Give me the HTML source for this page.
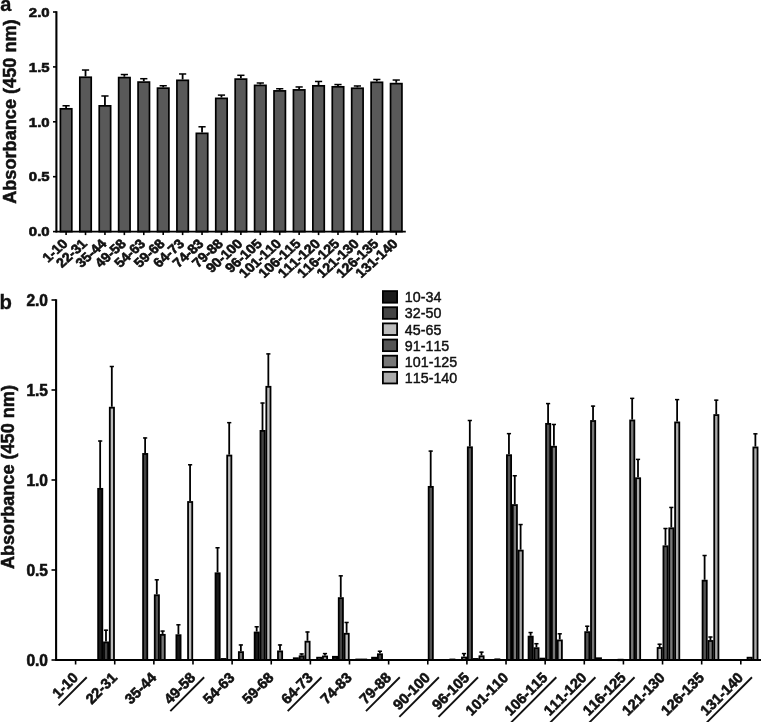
<!DOCTYPE html>
<html lang="en"><head><meta charset="utf-8"><title>Figure</title>
<style>html,body{margin:0;padding:0;background:#fff}svg{display:block}text{font-kerning:none}</style>
</head><body>
<svg width="761" height="722" viewBox="0 0 761 722" font-family='"Liberation Sans", Arial, Helvetica, sans-serif'>
<rect width="761" height="722" fill="#fff"/>
<text x="0.3" y="11.2" font-size="20" font-weight="bold" fill="#111" stroke="#111" stroke-width="0.3">a</text>
<text x="-0.5" y="308.9" font-size="20.3" font-weight="bold" fill="#111" stroke="#111" stroke-width="0.3">b</text>
<line x1="56.4" y1="11.2" x2="56.4" y2="232.4" stroke="#000" stroke-width="2.1"/>
<line x1="53" y1="231.6" x2="56.4" y2="231.6" stroke="#000" stroke-width="1.6"/>
<text transform="translate(49.6,236.3) scale(1.15,1)" font-size="13" font-weight="bold" text-anchor="end" fill="#111" stroke="#111" stroke-width="0.6">0.0</text>
<line x1="53" y1="176.7" x2="56.4" y2="176.7" stroke="#000" stroke-width="1.6"/>
<text transform="translate(49.6,181.4) scale(1.15,1)" font-size="13" font-weight="bold" text-anchor="end" fill="#111" stroke="#111" stroke-width="0.6">0.5</text>
<line x1="53" y1="121.8" x2="56.4" y2="121.8" stroke="#000" stroke-width="1.6"/>
<text transform="translate(49.6,126.5) scale(1.15,1)" font-size="13" font-weight="bold" text-anchor="end" fill="#111" stroke="#111" stroke-width="0.6">1.0</text>
<line x1="53" y1="66.9" x2="56.4" y2="66.9" stroke="#000" stroke-width="1.6"/>
<text transform="translate(49.6,71.6) scale(1.15,1)" font-size="13" font-weight="bold" text-anchor="end" fill="#111" stroke="#111" stroke-width="0.6">1.5</text>
<line x1="53" y1="12" x2="56.4" y2="12" stroke="#000" stroke-width="1.6"/>
<text transform="translate(49.6,16.7) scale(1.15,1)" font-size="13" font-weight="bold" text-anchor="end" fill="#111" stroke="#111" stroke-width="0.6">2.0</text>
<line x1="66.1" y1="105.77" x2="66.1" y2="107.97" stroke="#000" stroke-width="1.8"/>
<line x1="62.5" y1="105.77" x2="69.7" y2="105.77" stroke="#000" stroke-width="1.5"/>
<rect x="60.4" y="108.82" width="11.4" height="122.78" fill="#595959" stroke="#000" stroke-width="1.7"/>
<line x1="85.52" y1="70.02" x2="85.52" y2="76.4" stroke="#000" stroke-width="1.8"/>
<line x1="81.92" y1="70.02" x2="89.12" y2="70.02" stroke="#000" stroke-width="1.5"/>
<rect x="79.82" y="77.25" width="11.4" height="154.35" fill="#595959" stroke="#000" stroke-width="1.7"/>
<line x1="104.94" y1="95.98" x2="104.94" y2="105" stroke="#000" stroke-width="1.8"/>
<line x1="101.34" y1="95.98" x2="108.54" y2="95.98" stroke="#000" stroke-width="1.5"/>
<rect x="99.24" y="105.85" width="11.4" height="125.75" fill="#595959" stroke="#000" stroke-width="1.7"/>
<line x1="124.36" y1="74.53" x2="124.36" y2="76.73" stroke="#000" stroke-width="1.8"/>
<line x1="120.76" y1="74.53" x2="127.96" y2="74.53" stroke="#000" stroke-width="1.5"/>
<rect x="118.66" y="77.58" width="11.4" height="154.02" fill="#595959" stroke="#000" stroke-width="1.7"/>
<line x1="143.78" y1="78.71" x2="143.78" y2="81.24" stroke="#000" stroke-width="1.8"/>
<line x1="140.18" y1="78.71" x2="147.38" y2="78.71" stroke="#000" stroke-width="1.5"/>
<rect x="138.08" y="82.09" width="11.4" height="149.51" fill="#595959" stroke="#000" stroke-width="1.7"/>
<line x1="163.2" y1="85.75" x2="163.2" y2="87.29" stroke="#000" stroke-width="1.8"/>
<line x1="159.6" y1="85.75" x2="166.8" y2="85.75" stroke="#000" stroke-width="1.5"/>
<rect x="157.5" y="88.14" width="11.4" height="143.46" fill="#595959" stroke="#000" stroke-width="1.7"/>
<line x1="182.62" y1="73.98" x2="182.62" y2="79.48" stroke="#000" stroke-width="1.8"/>
<line x1="179.02" y1="73.98" x2="186.22" y2="73.98" stroke="#000" stroke-width="1.5"/>
<rect x="176.92" y="80.33" width="11.4" height="151.27" fill="#595959" stroke="#000" stroke-width="1.7"/>
<line x1="202.04" y1="126.78" x2="202.04" y2="132.5" stroke="#000" stroke-width="1.8"/>
<line x1="198.44" y1="126.78" x2="205.64" y2="126.78" stroke="#000" stroke-width="1.5"/>
<rect x="196.34" y="133.35" width="11.4" height="98.25" fill="#595959" stroke="#000" stroke-width="1.7"/>
<line x1="221.46" y1="95.1" x2="221.46" y2="97.52" stroke="#000" stroke-width="1.8"/>
<line x1="217.86" y1="95.1" x2="225.06" y2="95.1" stroke="#000" stroke-width="1.5"/>
<rect x="215.76" y="98.37" width="11.4" height="133.23" fill="#595959" stroke="#000" stroke-width="1.7"/>
<line x1="240.88" y1="75.3" x2="240.88" y2="78.27" stroke="#000" stroke-width="1.8"/>
<line x1="237.28" y1="75.3" x2="244.48" y2="75.3" stroke="#000" stroke-width="1.5"/>
<rect x="235.18" y="79.12" width="11.4" height="152.48" fill="#595959" stroke="#000" stroke-width="1.7"/>
<line x1="260.3" y1="83" x2="260.3" y2="84.54" stroke="#000" stroke-width="1.8"/>
<line x1="256.7" y1="83" x2="263.9" y2="83" stroke="#000" stroke-width="1.5"/>
<rect x="254.6" y="85.39" width="11.4" height="146.21" fill="#595959" stroke="#000" stroke-width="1.7"/>
<line x1="279.72" y1="88.72" x2="279.72" y2="90.04" stroke="#000" stroke-width="1.8"/>
<line x1="276.12" y1="88.72" x2="283.32" y2="88.72" stroke="#000" stroke-width="1.5"/>
<rect x="274.02" y="90.89" width="11.4" height="140.71" fill="#595959" stroke="#000" stroke-width="1.7"/>
<line x1="299.14" y1="86.96" x2="299.14" y2="89.05" stroke="#000" stroke-width="1.8"/>
<line x1="295.54" y1="86.96" x2="302.74" y2="86.96" stroke="#000" stroke-width="1.5"/>
<rect x="293.44" y="89.9" width="11.4" height="141.7" fill="#595959" stroke="#000" stroke-width="1.7"/>
<line x1="318.56" y1="81.46" x2="318.56" y2="84.98" stroke="#000" stroke-width="1.8"/>
<line x1="314.96" y1="81.46" x2="322.16" y2="81.46" stroke="#000" stroke-width="1.5"/>
<rect x="312.86" y="85.83" width="11.4" height="145.77" fill="#595959" stroke="#000" stroke-width="1.7"/>
<line x1="337.98" y1="84.54" x2="337.98" y2="85.97" stroke="#000" stroke-width="1.8"/>
<line x1="334.38" y1="84.54" x2="341.58" y2="84.54" stroke="#000" stroke-width="1.5"/>
<rect x="332.28" y="86.82" width="11.4" height="144.78" fill="#595959" stroke="#000" stroke-width="1.7"/>
<line x1="357.4" y1="85.97" x2="357.4" y2="87.4" stroke="#000" stroke-width="1.8"/>
<line x1="353.8" y1="85.97" x2="361" y2="85.97" stroke="#000" stroke-width="1.5"/>
<rect x="351.7" y="88.25" width="11.4" height="143.35" fill="#595959" stroke="#000" stroke-width="1.7"/>
<line x1="376.82" y1="79.48" x2="376.82" y2="81.46" stroke="#000" stroke-width="1.8"/>
<line x1="373.22" y1="79.48" x2="380.42" y2="79.48" stroke="#000" stroke-width="1.5"/>
<rect x="371.12" y="82.31" width="11.4" height="149.29" fill="#595959" stroke="#000" stroke-width="1.7"/>
<line x1="396.24" y1="80.03" x2="396.24" y2="82.78" stroke="#000" stroke-width="1.8"/>
<line x1="392.64" y1="80.03" x2="399.84" y2="80.03" stroke="#000" stroke-width="1.5"/>
<rect x="390.54" y="83.63" width="11.4" height="147.97" fill="#595959" stroke="#000" stroke-width="1.7"/>
<line x1="55.7" y1="231.6" x2="405.8" y2="231.6" stroke="#000" stroke-width="1.9"/>
<line x1="66.1" y1="231.6" x2="66.1" y2="235.1" stroke="#000" stroke-width="1.6"/>
<text transform="translate(68.6,244.5) scale(1.1,1) rotate(-45)" font-size="13.1" font-weight="bold" text-anchor="end" fill="#111" stroke="#111" stroke-width="0.6">1-10</text>
<line x1="85.52" y1="231.6" x2="85.52" y2="235.1" stroke="#000" stroke-width="1.6"/>
<text transform="translate(88.02,244.5) scale(1.1,1) rotate(-45)" font-size="13.1" font-weight="bold" text-anchor="end" fill="#111" stroke="#111" stroke-width="0.6">22-31</text>
<line x1="104.94" y1="231.6" x2="104.94" y2="235.1" stroke="#000" stroke-width="1.6"/>
<text transform="translate(107.44,244.5) scale(1.1,1) rotate(-45)" font-size="13.1" font-weight="bold" text-anchor="end" fill="#111" stroke="#111" stroke-width="0.6">35-44</text>
<line x1="124.36" y1="231.6" x2="124.36" y2="235.1" stroke="#000" stroke-width="1.6"/>
<text transform="translate(126.86,244.5) scale(1.1,1) rotate(-45)" font-size="13.1" font-weight="bold" text-anchor="end" fill="#111" stroke="#111" stroke-width="0.6">49-58</text>
<line x1="143.78" y1="231.6" x2="143.78" y2="235.1" stroke="#000" stroke-width="1.6"/>
<text transform="translate(146.28,244.5) scale(1.1,1) rotate(-45)" font-size="13.1" font-weight="bold" text-anchor="end" fill="#111" stroke="#111" stroke-width="0.6">54-63</text>
<line x1="163.2" y1="231.6" x2="163.2" y2="235.1" stroke="#000" stroke-width="1.6"/>
<text transform="translate(165.7,244.5) scale(1.1,1) rotate(-45)" font-size="13.1" font-weight="bold" text-anchor="end" fill="#111" stroke="#111" stroke-width="0.6">59-68</text>
<line x1="182.62" y1="231.6" x2="182.62" y2="235.1" stroke="#000" stroke-width="1.6"/>
<text transform="translate(185.12,244.5) scale(1.1,1) rotate(-45)" font-size="13.1" font-weight="bold" text-anchor="end" fill="#111" stroke="#111" stroke-width="0.6">64-73</text>
<line x1="202.04" y1="231.6" x2="202.04" y2="235.1" stroke="#000" stroke-width="1.6"/>
<text transform="translate(204.54,244.5) scale(1.1,1) rotate(-45)" font-size="13.1" font-weight="bold" text-anchor="end" fill="#111" stroke="#111" stroke-width="0.6">74-83</text>
<line x1="221.46" y1="231.6" x2="221.46" y2="235.1" stroke="#000" stroke-width="1.6"/>
<text transform="translate(223.96,244.5) scale(1.1,1) rotate(-45)" font-size="13.1" font-weight="bold" text-anchor="end" fill="#111" stroke="#111" stroke-width="0.6">79-88</text>
<line x1="240.88" y1="231.6" x2="240.88" y2="235.1" stroke="#000" stroke-width="1.6"/>
<text transform="translate(243.38,244.5) scale(1.1,1) rotate(-45)" font-size="13.1" font-weight="bold" text-anchor="end" fill="#111" stroke="#111" stroke-width="0.6">90-100</text>
<line x1="260.3" y1="231.6" x2="260.3" y2="235.1" stroke="#000" stroke-width="1.6"/>
<text transform="translate(262.8,244.5) scale(1.1,1) rotate(-45)" font-size="13.1" font-weight="bold" text-anchor="end" fill="#111" stroke="#111" stroke-width="0.6">96-105</text>
<line x1="279.72" y1="231.6" x2="279.72" y2="235.1" stroke="#000" stroke-width="1.6"/>
<text transform="translate(282.22,244.5) scale(1.1,1) rotate(-45)" font-size="13.1" font-weight="bold" text-anchor="end" fill="#111" stroke="#111" stroke-width="0.6">101-110</text>
<line x1="299.14" y1="231.6" x2="299.14" y2="235.1" stroke="#000" stroke-width="1.6"/>
<text transform="translate(301.64,244.5) scale(1.1,1) rotate(-45)" font-size="13.1" font-weight="bold" text-anchor="end" fill="#111" stroke="#111" stroke-width="0.6">106-115</text>
<line x1="318.56" y1="231.6" x2="318.56" y2="235.1" stroke="#000" stroke-width="1.6"/>
<text transform="translate(321.06,244.5) scale(1.1,1) rotate(-45)" font-size="13.1" font-weight="bold" text-anchor="end" fill="#111" stroke="#111" stroke-width="0.6">111-120</text>
<line x1="337.98" y1="231.6" x2="337.98" y2="235.1" stroke="#000" stroke-width="1.6"/>
<text transform="translate(340.48,244.5) scale(1.1,1) rotate(-45)" font-size="13.1" font-weight="bold" text-anchor="end" fill="#111" stroke="#111" stroke-width="0.6">116-125</text>
<line x1="357.4" y1="231.6" x2="357.4" y2="235.1" stroke="#000" stroke-width="1.6"/>
<text transform="translate(359.9,244.5) scale(1.1,1) rotate(-45)" font-size="13.1" font-weight="bold" text-anchor="end" fill="#111" stroke="#111" stroke-width="0.6">121-130</text>
<line x1="376.82" y1="231.6" x2="376.82" y2="235.1" stroke="#000" stroke-width="1.6"/>
<text transform="translate(379.32,244.5) scale(1.1,1) rotate(-45)" font-size="13.1" font-weight="bold" text-anchor="end" fill="#111" stroke="#111" stroke-width="0.6">126-135</text>
<line x1="396.24" y1="231.6" x2="396.24" y2="235.1" stroke="#000" stroke-width="1.6"/>
<text transform="translate(398.74,244.5) scale(1.1,1) rotate(-45)" font-size="13.1" font-weight="bold" text-anchor="end" fill="#111" stroke="#111" stroke-width="0.6">131-140</text>
<text transform="translate(16,111.6) rotate(-90)" font-size="18.15" font-weight="bold" text-anchor="middle" fill="#111" stroke="#111" stroke-width="0.55">Absorbance (450 nm)</text>
<line x1="56.1" y1="299.2" x2="56.1" y2="660.8" stroke="#000" stroke-width="2.1"/>
<line x1="51.5" y1="660" x2="56.1" y2="660" stroke="#000" stroke-width="1.6"/>
<text transform="translate(48,665.8) scale(0.97,1)" font-size="16" font-weight="bold" text-anchor="end" fill="#111" stroke="#111" stroke-width="0.6">0.0</text>
<line x1="51.5" y1="570" x2="56.1" y2="570" stroke="#000" stroke-width="1.6"/>
<text transform="translate(48,575.8) scale(0.97,1)" font-size="16" font-weight="bold" text-anchor="end" fill="#111" stroke="#111" stroke-width="0.6">0.5</text>
<line x1="51.5" y1="480" x2="56.1" y2="480" stroke="#000" stroke-width="1.6"/>
<text transform="translate(48,485.8) scale(0.97,1)" font-size="16" font-weight="bold" text-anchor="end" fill="#111" stroke="#111" stroke-width="0.6">1.0</text>
<line x1="51.5" y1="390" x2="56.1" y2="390" stroke="#000" stroke-width="1.6"/>
<text transform="translate(48,395.8) scale(0.97,1)" font-size="16" font-weight="bold" text-anchor="end" fill="#111" stroke="#111" stroke-width="0.6">1.5</text>
<line x1="51.5" y1="300" x2="56.1" y2="300" stroke="#000" stroke-width="1.6"/>
<text transform="translate(48,305.8) scale(0.97,1)" font-size="16" font-weight="bold" text-anchor="end" fill="#111" stroke="#111" stroke-width="0.6">2.0</text>
<line x1="100.15" y1="440.62" x2="100.15" y2="487.96" stroke="#000" stroke-width="1.8"/>
<line x1="98.05" y1="441.02" x2="102.25" y2="441.02" stroke="#000" stroke-width="1.5"/>
<rect x="98.14" y="488.86" width="4.18" height="171.14" fill="#1a1a1a" stroke="#000" stroke-width="1.8"/>
<line x1="105.98" y1="629.8" x2="105.98" y2="641.5" stroke="#000" stroke-width="1.8"/>
<line x1="103.88" y1="630.2" x2="108.08" y2="630.2" stroke="#000" stroke-width="1.5"/>
<rect x="103.97" y="642.4" width="4.18" height="17.6" fill="#444444" stroke="#000" stroke-width="1.8"/>
<line x1="111.81" y1="366.1" x2="111.81" y2="406.78" stroke="#000" stroke-width="1.8"/>
<line x1="109.71" y1="366.5" x2="113.91" y2="366.5" stroke="#000" stroke-width="1.5"/>
<rect x="109.8" y="407.68" width="4.18" height="252.32" fill="#bdbdbd" stroke="#000" stroke-width="1.8"/>
<line x1="145.12" y1="437.56" x2="145.12" y2="453.04" stroke="#000" stroke-width="1.8"/>
<line x1="143.02" y1="437.96" x2="147.22" y2="437.96" stroke="#000" stroke-width="1.5"/>
<rect x="143.1" y="453.94" width="4.18" height="206.06" fill="#444444" stroke="#000" stroke-width="1.8"/>
<line x1="156.78" y1="579.4" x2="156.78" y2="594.34" stroke="#000" stroke-width="1.8"/>
<line x1="154.68" y1="579.8" x2="158.88" y2="579.8" stroke="#000" stroke-width="1.5"/>
<rect x="154.76" y="595.24" width="4.18" height="64.76" fill="#555555" stroke="#000" stroke-width="1.8"/>
<line x1="162.6" y1="630.7" x2="162.6" y2="633.94" stroke="#000" stroke-width="1.8"/>
<line x1="160.5" y1="631.1" x2="164.7" y2="631.1" stroke="#000" stroke-width="1.5"/>
<rect x="160.59" y="634.84" width="4.18" height="25.16" fill="#777777" stroke="#000" stroke-width="1.8"/>
<line x1="178.41" y1="624.4" x2="178.41" y2="634.3" stroke="#000" stroke-width="1.8"/>
<line x1="176.31" y1="624.8" x2="180.51" y2="624.8" stroke="#000" stroke-width="1.5"/>
<rect x="176.4" y="635.2" width="4.18" height="24.8" fill="#1a1a1a" stroke="#000" stroke-width="1.8"/>
<line x1="190.07" y1="464.38" x2="190.07" y2="501.1" stroke="#000" stroke-width="1.8"/>
<line x1="187.97" y1="464.78" x2="192.17" y2="464.78" stroke="#000" stroke-width="1.5"/>
<rect x="188.06" y="502" width="4.18" height="158" fill="#bdbdbd" stroke="#000" stroke-width="1.8"/>
<line x1="217.54" y1="547.36" x2="217.54" y2="572.38" stroke="#000" stroke-width="1.8"/>
<line x1="215.44" y1="547.76" x2="219.64" y2="547.76" stroke="#000" stroke-width="1.5"/>
<rect x="215.53" y="573.28" width="4.18" height="86.72" fill="#1a1a1a" stroke="#000" stroke-width="1.8"/>
<rect x="221.36" y="658.96" width="4.18" height="1.04" fill="#444444" stroke="#000" stroke-width="1.8"/>
<line x1="229.2" y1="422.26" x2="229.2" y2="454.66" stroke="#000" stroke-width="1.8"/>
<line x1="227.1" y1="422.66" x2="231.3" y2="422.66" stroke="#000" stroke-width="1.5"/>
<rect x="227.19" y="455.56" width="4.18" height="204.44" fill="#bdbdbd" stroke="#000" stroke-width="1.8"/>
<line x1="240.86" y1="644.56" x2="240.86" y2="651.22" stroke="#000" stroke-width="1.8"/>
<line x1="238.76" y1="644.96" x2="242.96" y2="644.96" stroke="#000" stroke-width="1.5"/>
<rect x="238.85" y="652.12" width="4.18" height="7.88" fill="#777777" stroke="#000" stroke-width="1.8"/>
<line x1="256.68" y1="626.38" x2="256.68" y2="631.6" stroke="#000" stroke-width="1.8"/>
<line x1="254.58" y1="626.78" x2="258.78" y2="626.78" stroke="#000" stroke-width="1.5"/>
<rect x="254.66" y="632.5" width="4.18" height="27.5" fill="#1a1a1a" stroke="#000" stroke-width="1.8"/>
<line x1="262.5" y1="402.64" x2="262.5" y2="430" stroke="#000" stroke-width="1.8"/>
<line x1="260.4" y1="403.04" x2="264.61" y2="403.04" stroke="#000" stroke-width="1.5"/>
<rect x="260.49" y="430.9" width="4.18" height="229.1" fill="#444444" stroke="#000" stroke-width="1.8"/>
<line x1="268.34" y1="353.5" x2="268.34" y2="385.9" stroke="#000" stroke-width="1.8"/>
<line x1="266.24" y1="353.9" x2="270.44" y2="353.9" stroke="#000" stroke-width="1.5"/>
<rect x="266.32" y="386.8" width="4.18" height="273.2" fill="#bdbdbd" stroke="#000" stroke-width="1.8"/>
<line x1="280" y1="644.56" x2="280" y2="650.5" stroke="#000" stroke-width="1.8"/>
<line x1="277.89" y1="644.96" x2="282.1" y2="644.96" stroke="#000" stroke-width="1.5"/>
<rect x="277.98" y="651.4" width="4.18" height="8.6" fill="#777777" stroke="#000" stroke-width="1.8"/>
<rect x="293.79" y="658.24" width="4.18" height="1.76" fill="#1a1a1a" stroke="#000" stroke-width="1.8"/>
<line x1="301.63" y1="653.56" x2="301.63" y2="655.36" stroke="#000" stroke-width="1.8"/>
<line x1="299.53" y1="653.96" x2="303.74" y2="653.96" stroke="#000" stroke-width="1.5"/>
<rect x="299.62" y="656.26" width="4.18" height="3.74" fill="#444444" stroke="#000" stroke-width="1.8"/>
<line x1="307.47" y1="631.6" x2="307.47" y2="640.78" stroke="#000" stroke-width="1.8"/>
<line x1="305.37" y1="632" x2="309.57" y2="632" stroke="#000" stroke-width="1.5"/>
<rect x="305.45" y="641.68" width="4.18" height="18.32" fill="#bdbdbd" stroke="#000" stroke-width="1.8"/>
<rect x="317.11" y="657.7" width="4.18" height="2.3" fill="#777777" stroke="#000" stroke-width="1.8"/>
<line x1="324.95" y1="653.2" x2="324.95" y2="655.54" stroke="#000" stroke-width="1.8"/>
<line x1="322.85" y1="653.6" x2="327.06" y2="653.6" stroke="#000" stroke-width="1.5"/>
<rect x="322.94" y="656.44" width="4.18" height="3.56" fill="#ababab" stroke="#000" stroke-width="1.8"/>
<rect x="332.92" y="656.8" width="4.18" height="3.2" fill="#1a1a1a" stroke="#000" stroke-width="1.8"/>
<line x1="340.76" y1="575.44" x2="340.76" y2="597.22" stroke="#000" stroke-width="1.8"/>
<line x1="338.66" y1="575.84" x2="342.87" y2="575.84" stroke="#000" stroke-width="1.5"/>
<rect x="338.75" y="598.12" width="4.18" height="61.88" fill="#444444" stroke="#000" stroke-width="1.8"/>
<line x1="346.6" y1="622.06" x2="346.6" y2="632.86" stroke="#000" stroke-width="1.8"/>
<line x1="344.5" y1="622.46" x2="348.7" y2="622.46" stroke="#000" stroke-width="1.5"/>
<rect x="344.58" y="633.76" width="4.18" height="26.24" fill="#bdbdbd" stroke="#000" stroke-width="1.8"/>
<rect x="356.24" y="659.5" width="4.18" height="0.5" fill="#777777" stroke="#000" stroke-width="1.8"/>
<rect x="362.07" y="659.5" width="4.18" height="0.5" fill="#ababab" stroke="#000" stroke-width="1.8"/>
<rect x="372.05" y="657.7" width="4.18" height="2.3" fill="#1a1a1a" stroke="#000" stroke-width="1.8"/>
<line x1="379.89" y1="650.86" x2="379.89" y2="653.38" stroke="#000" stroke-width="1.8"/>
<line x1="377.79" y1="651.26" x2="382" y2="651.26" stroke="#000" stroke-width="1.5"/>
<rect x="377.88" y="654.28" width="4.18" height="5.72" fill="#444444" stroke="#000" stroke-width="1.8"/>
<line x1="430.69" y1="450.7" x2="430.69" y2="485.98" stroke="#000" stroke-width="1.8"/>
<line x1="428.58" y1="451.1" x2="432.79" y2="451.1" stroke="#000" stroke-width="1.5"/>
<rect x="428.67" y="486.88" width="4.18" height="173.12" fill="#555555" stroke="#000" stroke-width="1.8"/>
<rect x="450.31" y="659.5" width="4.18" height="0.5" fill="#1a1a1a" stroke="#000" stroke-width="1.8"/>
<line x1="463.99" y1="653.2" x2="463.99" y2="656.62" stroke="#000" stroke-width="1.8"/>
<line x1="461.88" y1="653.6" x2="466.09" y2="653.6" stroke="#000" stroke-width="1.5"/>
<rect x="461.97" y="657.52" width="4.18" height="2.48" fill="#bdbdbd" stroke="#000" stroke-width="1.8"/>
<line x1="469.81" y1="420.1" x2="469.81" y2="446.38" stroke="#000" stroke-width="1.8"/>
<line x1="467.71" y1="420.5" x2="471.92" y2="420.5" stroke="#000" stroke-width="1.5"/>
<rect x="467.8" y="447.28" width="4.18" height="212.72" fill="#555555" stroke="#000" stroke-width="1.8"/>
<rect x="473.63" y="658.96" width="4.18" height="1.04" fill="#777777" stroke="#000" stroke-width="1.8"/>
<line x1="481.47" y1="651.76" x2="481.47" y2="655.36" stroke="#000" stroke-width="1.8"/>
<line x1="479.37" y1="652.16" x2="483.57" y2="652.16" stroke="#000" stroke-width="1.5"/>
<rect x="479.46" y="656.26" width="4.18" height="3.74" fill="#ababab" stroke="#000" stroke-width="1.8"/>
<rect x="495.27" y="659.32" width="4.18" height="0.68" fill="#444444" stroke="#000" stroke-width="1.8"/>
<line x1="508.94" y1="433.24" x2="508.94" y2="454.3" stroke="#000" stroke-width="1.8"/>
<line x1="506.84" y1="433.64" x2="511.05" y2="433.64" stroke="#000" stroke-width="1.5"/>
<rect x="506.93" y="455.2" width="4.18" height="204.8" fill="#555555" stroke="#000" stroke-width="1.8"/>
<line x1="514.77" y1="475.36" x2="514.77" y2="504.16" stroke="#000" stroke-width="1.8"/>
<line x1="512.67" y1="475.76" x2="516.88" y2="475.76" stroke="#000" stroke-width="1.5"/>
<rect x="512.76" y="505.06" width="4.18" height="154.94" fill="#777777" stroke="#000" stroke-width="1.8"/>
<line x1="520.6" y1="524.14" x2="520.6" y2="549.7" stroke="#000" stroke-width="1.8"/>
<line x1="518.5" y1="524.54" x2="522.7" y2="524.54" stroke="#000" stroke-width="1.5"/>
<rect x="518.59" y="550.6" width="4.18" height="109.4" fill="#ababab" stroke="#000" stroke-width="1.8"/>
<line x1="530.59" y1="632.14" x2="530.59" y2="635.74" stroke="#000" stroke-width="1.8"/>
<line x1="528.49" y1="632.54" x2="532.69" y2="632.54" stroke="#000" stroke-width="1.5"/>
<rect x="528.57" y="636.64" width="4.18" height="23.36" fill="#1a1a1a" stroke="#000" stroke-width="1.8"/>
<line x1="536.42" y1="643.3" x2="536.42" y2="647.26" stroke="#000" stroke-width="1.8"/>
<line x1="534.32" y1="643.7" x2="538.52" y2="643.7" stroke="#000" stroke-width="1.5"/>
<rect x="534.4" y="648.16" width="4.18" height="11.84" fill="#444444" stroke="#000" stroke-width="1.8"/>
<rect x="540.23" y="658.6" width="4.18" height="1.4" fill="#bdbdbd" stroke="#000" stroke-width="1.8"/>
<line x1="548.08" y1="403.18" x2="548.08" y2="422.98" stroke="#000" stroke-width="1.8"/>
<line x1="545.98" y1="403.58" x2="550.18" y2="403.58" stroke="#000" stroke-width="1.5"/>
<rect x="546.06" y="423.88" width="4.18" height="236.12" fill="#555555" stroke="#000" stroke-width="1.8"/>
<line x1="553.91" y1="424.06" x2="553.91" y2="445.84" stroke="#000" stroke-width="1.8"/>
<line x1="551.81" y1="424.46" x2="556.01" y2="424.46" stroke="#000" stroke-width="1.5"/>
<rect x="551.89" y="446.74" width="4.18" height="213.26" fill="#777777" stroke="#000" stroke-width="1.8"/>
<line x1="559.74" y1="633.4" x2="559.74" y2="639.52" stroke="#000" stroke-width="1.8"/>
<line x1="557.63" y1="633.8" x2="561.84" y2="633.8" stroke="#000" stroke-width="1.5"/>
<rect x="557.72" y="640.42" width="4.18" height="19.58" fill="#ababab" stroke="#000" stroke-width="1.8"/>
<line x1="587.21" y1="625.84" x2="587.21" y2="631.24" stroke="#000" stroke-width="1.8"/>
<line x1="585.11" y1="626.24" x2="589.31" y2="626.24" stroke="#000" stroke-width="1.5"/>
<rect x="585.19" y="632.14" width="4.18" height="27.86" fill="#555555" stroke="#000" stroke-width="1.8"/>
<line x1="593.04" y1="405.7" x2="593.04" y2="420.1" stroke="#000" stroke-width="1.8"/>
<line x1="590.94" y1="406.1" x2="595.14" y2="406.1" stroke="#000" stroke-width="1.5"/>
<rect x="591.02" y="421" width="4.18" height="239" fill="#777777" stroke="#000" stroke-width="1.8"/>
<rect x="596.85" y="658.24" width="4.18" height="1.76" fill="#ababab" stroke="#000" stroke-width="1.8"/>
<rect x="618.49" y="659.68" width="4.18" height="0.5" fill="#bdbdbd" stroke="#000" stroke-width="1.8"/>
<line x1="632.17" y1="397.96" x2="632.17" y2="419.56" stroke="#000" stroke-width="1.8"/>
<line x1="630.07" y1="398.36" x2="634.27" y2="398.36" stroke="#000" stroke-width="1.5"/>
<rect x="630.15" y="420.46" width="4.18" height="239.54" fill="#777777" stroke="#000" stroke-width="1.8"/>
<line x1="638" y1="458.98" x2="638" y2="477.34" stroke="#000" stroke-width="1.8"/>
<line x1="635.89" y1="459.38" x2="640.1" y2="459.38" stroke="#000" stroke-width="1.5"/>
<rect x="635.98" y="478.24" width="4.18" height="181.76" fill="#ababab" stroke="#000" stroke-width="1.8"/>
<line x1="659.63" y1="643.84" x2="659.63" y2="647.08" stroke="#000" stroke-width="1.8"/>
<line x1="657.53" y1="644.24" x2="661.74" y2="644.24" stroke="#000" stroke-width="1.5"/>
<rect x="657.62" y="647.98" width="4.18" height="12.02" fill="#bdbdbd" stroke="#000" stroke-width="1.8"/>
<line x1="665.47" y1="528.1" x2="665.47" y2="545.38" stroke="#000" stroke-width="1.8"/>
<line x1="663.37" y1="528.5" x2="667.57" y2="528.5" stroke="#000" stroke-width="1.5"/>
<rect x="663.45" y="546.28" width="4.18" height="113.72" fill="#555555" stroke="#000" stroke-width="1.8"/>
<line x1="671.3" y1="507.04" x2="671.3" y2="527.38" stroke="#000" stroke-width="1.8"/>
<line x1="669.2" y1="507.44" x2="673.4" y2="507.44" stroke="#000" stroke-width="1.5"/>
<rect x="669.28" y="528.28" width="4.18" height="131.72" fill="#777777" stroke="#000" stroke-width="1.8"/>
<line x1="677.12" y1="399.22" x2="677.12" y2="421.54" stroke="#000" stroke-width="1.8"/>
<line x1="675.02" y1="399.62" x2="679.23" y2="399.62" stroke="#000" stroke-width="1.5"/>
<rect x="675.11" y="422.44" width="4.18" height="237.56" fill="#ababab" stroke="#000" stroke-width="1.8"/>
<line x1="704.6" y1="555.1" x2="704.6" y2="579.76" stroke="#000" stroke-width="1.8"/>
<line x1="702.5" y1="555.5" x2="706.7" y2="555.5" stroke="#000" stroke-width="1.5"/>
<rect x="702.58" y="580.66" width="4.18" height="79.34" fill="#555555" stroke="#000" stroke-width="1.8"/>
<line x1="710.43" y1="636.64" x2="710.43" y2="640.06" stroke="#000" stroke-width="1.8"/>
<line x1="708.33" y1="637.04" x2="712.53" y2="637.04" stroke="#000" stroke-width="1.5"/>
<rect x="708.41" y="640.96" width="4.18" height="19.04" fill="#777777" stroke="#000" stroke-width="1.8"/>
<line x1="716.25" y1="399.76" x2="716.25" y2="414.16" stroke="#000" stroke-width="1.8"/>
<line x1="714.15" y1="400.16" x2="718.36" y2="400.16" stroke="#000" stroke-width="1.5"/>
<rect x="714.24" y="415.06" width="4.18" height="244.94" fill="#ababab" stroke="#000" stroke-width="1.8"/>
<rect x="747.54" y="657.7" width="4.18" height="2.3" fill="#777777" stroke="#000" stroke-width="1.8"/>
<line x1="755.38" y1="433.42" x2="755.38" y2="446.56" stroke="#000" stroke-width="1.8"/>
<line x1="753.28" y1="433.82" x2="757.49" y2="433.82" stroke="#000" stroke-width="1.5"/>
<rect x="753.37" y="447.46" width="4.18" height="212.54" fill="#ababab" stroke="#000" stroke-width="1.8"/>
<line x1="55.4" y1="660" x2="761" y2="660" stroke="#000" stroke-width="2"/>
<line x1="75.6" y1="660" x2="75.6" y2="664.5" stroke="#000" stroke-width="1.6"/>
<g transform="translate(78.9,678.6) rotate(-45)"><text font-size="14.6" font-weight="bold" text-anchor="end" fill="#111" stroke="#111" stroke-width="0.6">1-10</text><line x1="-33.21" y1="4.6" x2="6.5" y2="4.6" stroke="#111" stroke-width="1.9"/></g>
<line x1="114.73" y1="660" x2="114.73" y2="664.5" stroke="#000" stroke-width="1.6"/>
<g transform="translate(118.03,678.6) rotate(-45)"><text font-size="14.6" font-weight="bold" text-anchor="end" fill="#111" stroke="#111" stroke-width="0.6">22-31</text></g>
<line x1="153.86" y1="660" x2="153.86" y2="664.5" stroke="#000" stroke-width="1.6"/>
<g transform="translate(157.16,678.6) rotate(-45)"><text font-size="14.6" font-weight="bold" text-anchor="end" fill="#111" stroke="#111" stroke-width="0.6">35-44</text></g>
<line x1="192.99" y1="660" x2="192.99" y2="664.5" stroke="#000" stroke-width="1.6"/>
<g transform="translate(196.29,678.6) rotate(-45)"><text font-size="14.6" font-weight="bold" text-anchor="end" fill="#111" stroke="#111" stroke-width="0.6">49-58</text><line x1="-41.33" y1="4.6" x2="6.5" y2="4.6" stroke="#111" stroke-width="1.9"/></g>
<line x1="232.12" y1="660" x2="232.12" y2="664.5" stroke="#000" stroke-width="1.6"/>
<g transform="translate(235.42,678.6) rotate(-45)"><text font-size="14.6" font-weight="bold" text-anchor="end" fill="#111" stroke="#111" stroke-width="0.6">54-63</text></g>
<line x1="271.25" y1="660" x2="271.25" y2="664.5" stroke="#000" stroke-width="1.6"/>
<g transform="translate(274.55,678.6) rotate(-45)"><text font-size="14.6" font-weight="bold" text-anchor="end" fill="#111" stroke="#111" stroke-width="0.6">59-68</text></g>
<line x1="310.38" y1="660" x2="310.38" y2="664.5" stroke="#000" stroke-width="1.6"/>
<g transform="translate(313.68,678.6) rotate(-45)"><text font-size="14.6" font-weight="bold" text-anchor="end" fill="#111" stroke="#111" stroke-width="0.6">64-73</text><line x1="-41.33" y1="4.6" x2="6.5" y2="4.6" stroke="#111" stroke-width="1.9"/></g>
<line x1="349.51" y1="660" x2="349.51" y2="664.5" stroke="#000" stroke-width="1.6"/>
<g transform="translate(352.81,678.6) rotate(-45)"><text font-size="14.6" font-weight="bold" text-anchor="end" fill="#111" stroke="#111" stroke-width="0.6">74-83</text></g>
<line x1="388.64" y1="660" x2="388.64" y2="664.5" stroke="#000" stroke-width="1.6"/>
<g transform="translate(391.94,678.6) rotate(-45)"><text font-size="14.6" font-weight="bold" text-anchor="end" fill="#111" stroke="#111" stroke-width="0.6">79-88</text><line x1="-41.33" y1="4.6" x2="6.5" y2="4.6" stroke="#111" stroke-width="1.9"/></g>
<line x1="427.77" y1="660" x2="427.77" y2="664.5" stroke="#000" stroke-width="1.6"/>
<g transform="translate(431.07,678.6) rotate(-45)"><text font-size="14.6" font-weight="bold" text-anchor="end" fill="#111" stroke="#111" stroke-width="0.6">90-100</text><line x1="-49.45" y1="4.6" x2="6.5" y2="4.6" stroke="#111" stroke-width="1.9"/></g>
<line x1="466.9" y1="660" x2="466.9" y2="664.5" stroke="#000" stroke-width="1.6"/>
<g transform="translate(470.2,678.6) rotate(-45)"><text font-size="14.6" font-weight="bold" text-anchor="end" fill="#111" stroke="#111" stroke-width="0.6">96-105</text><line x1="-49.45" y1="4.6" x2="6.5" y2="4.6" stroke="#111" stroke-width="1.9"/></g>
<line x1="506.03" y1="660" x2="506.03" y2="664.5" stroke="#000" stroke-width="1.6"/>
<g transform="translate(509.33,678.6) rotate(-45)"><text font-size="14.6" font-weight="bold" text-anchor="end" fill="#111" stroke="#111" stroke-width="0.6">101-110</text></g>
<line x1="545.16" y1="660" x2="545.16" y2="664.5" stroke="#000" stroke-width="1.6"/>
<g transform="translate(548.46,678.6) rotate(-45)"><text font-size="14.6" font-weight="bold" text-anchor="end" fill="#111" stroke="#111" stroke-width="0.6">106-115</text><line x1="-57.57" y1="4.6" x2="6.5" y2="4.6" stroke="#111" stroke-width="1.9"/></g>
<line x1="584.29" y1="660" x2="584.29" y2="664.5" stroke="#000" stroke-width="1.6"/>
<g transform="translate(587.59,678.6) rotate(-45)"><text font-size="14.6" font-weight="bold" text-anchor="end" fill="#111" stroke="#111" stroke-width="0.6">111-120</text><line x1="-57.57" y1="4.6" x2="6.5" y2="4.6" stroke="#111" stroke-width="1.9"/></g>
<line x1="623.42" y1="660" x2="623.42" y2="664.5" stroke="#000" stroke-width="1.6"/>
<g transform="translate(626.72,678.6) rotate(-45)"><text font-size="14.6" font-weight="bold" text-anchor="end" fill="#111" stroke="#111" stroke-width="0.6">116-125</text><line x1="-57.57" y1="4.6" x2="6.5" y2="4.6" stroke="#111" stroke-width="1.9"/></g>
<line x1="662.55" y1="660" x2="662.55" y2="664.5" stroke="#000" stroke-width="1.6"/>
<g transform="translate(665.85,678.6) rotate(-45)"><text font-size="14.6" font-weight="bold" text-anchor="end" fill="#111" stroke="#111" stroke-width="0.6">121-130</text></g>
<line x1="701.68" y1="660" x2="701.68" y2="664.5" stroke="#000" stroke-width="1.6"/>
<g transform="translate(704.98,678.6) rotate(-45)"><text font-size="14.6" font-weight="bold" text-anchor="end" fill="#111" stroke="#111" stroke-width="0.6">126-135</text></g>
<line x1="740.81" y1="660" x2="740.81" y2="664.5" stroke="#000" stroke-width="1.6"/>
<g transform="translate(744.11,678.6) rotate(-45)"><text font-size="14.6" font-weight="bold" text-anchor="end" fill="#111" stroke="#111" stroke-width="0.6">131-140</text><line x1="-57.57" y1="4.6" x2="6.5" y2="4.6" stroke="#111" stroke-width="1.9"/></g>
<text transform="translate(14,477.1) rotate(-90)" font-size="18.1" font-weight="bold" text-anchor="middle" fill="#111" stroke="#111" stroke-width="0.55">Absorbance (450 nm)</text>
<rect x="382.9" y="291.1" width="14.2" height="11.6" fill="#1a1a1a" stroke="#000" stroke-width="1.8"/>
<text transform="translate(404.8,302.3) scale(0.953,1)" font-size="15" fill="#111" stroke="#111" stroke-width="0.45">10-34</text>
<rect x="382.9" y="307.25" width="14.2" height="11.6" fill="#444444" stroke="#000" stroke-width="1.8"/>
<text transform="translate(404.8,318.45) scale(0.953,1)" font-size="15" fill="#111" stroke="#111" stroke-width="0.45">32-50</text>
<rect x="382.9" y="323.4" width="14.2" height="11.6" fill="#bdbdbd" stroke="#000" stroke-width="1.8"/>
<text transform="translate(404.8,334.6) scale(0.953,1)" font-size="15" fill="#111" stroke="#111" stroke-width="0.45">45-65</text>
<rect x="382.9" y="339.55" width="14.2" height="11.6" fill="#555555" stroke="#000" stroke-width="1.8"/>
<text transform="translate(404.8,350.75) scale(0.953,1)" font-size="15" fill="#111" stroke="#111" stroke-width="0.45">91-115</text>
<rect x="382.9" y="355.7" width="14.2" height="11.6" fill="#777777" stroke="#000" stroke-width="1.8"/>
<text transform="translate(404.8,366.9) scale(0.953,1)" font-size="15" fill="#111" stroke="#111" stroke-width="0.45">101-125</text>
<rect x="382.9" y="371.85" width="14.2" height="11.6" fill="#ababab" stroke="#000" stroke-width="1.8"/>
<text transform="translate(404.8,383.05) scale(0.953,1)" font-size="15" fill="#111" stroke="#111" stroke-width="0.45">115-140</text>
</svg>
</body></html>
